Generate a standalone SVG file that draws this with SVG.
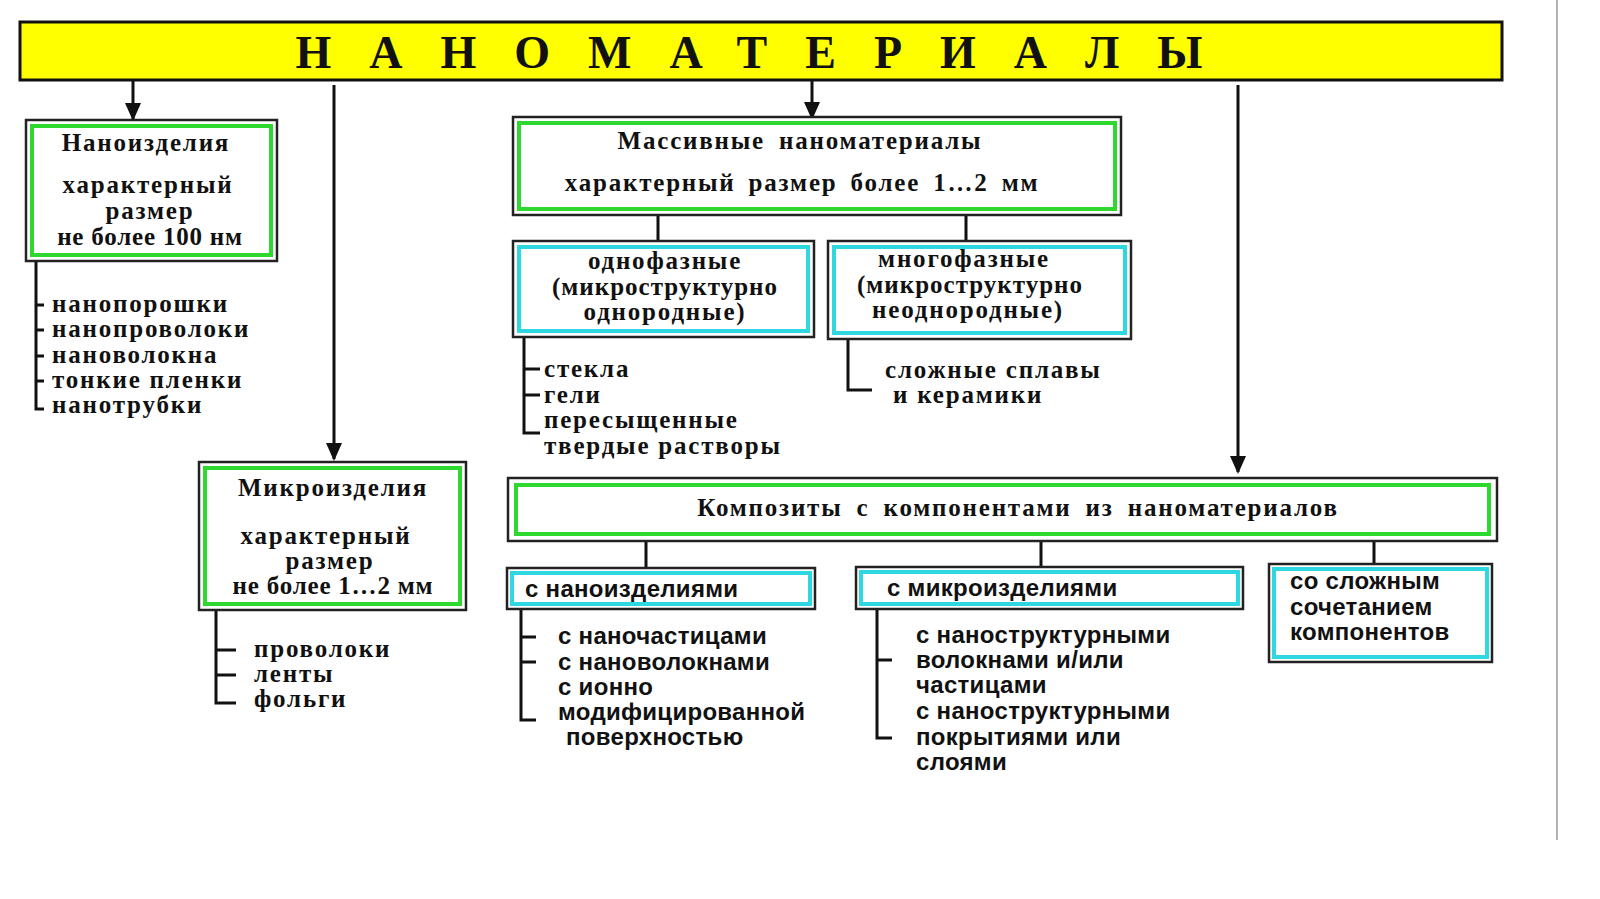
<svg xmlns="http://www.w3.org/2000/svg" width="1600" height="899" viewBox="0 0 1600 899">
<style>
text{font-family:"Liberation Serif","DejaVu Serif",serif;font-weight:bold;fill:#111;font-size:25px;letter-spacing:1.8px}
.c{text-anchor:middle}
.o{fill:#fff;stroke:#222;stroke-width:2.5}
.g{fill:none;stroke:#2ed82e;stroke-width:4}
.b{fill:none;stroke:#2fd8e0;stroke-width:4}
.l{stroke:#111;stroke-width:3;fill:none}
.n{font-family:"Liberation Sans","DejaVu Sans",sans-serif;font-size:24px;letter-spacing:0.3px}
</style>
<defs><marker id="a" markerWidth="18" markerHeight="30" refX="16" refY="8" orient="auto" markerUnits="userSpaceOnUse" viewBox="0 0 18 16"><path d="M0,0L18,8L0,16z" fill="#111"/></marker></defs>
<rect width="1600" height="899" fill="#fff"/>
<line x1="1557" y1="0" x2="1557" y2="840" stroke="#999" stroke-width="1.5"/>
<g id="title"><rect x="20" y="22" width="1482" height="58" fill="#ffff00" stroke="#111" stroke-width="3"/><text x="768" y="68" class="c" style="font-size:46px;letter-spacing:38px">НАНОМАТЕРИАЛЫ</text></g>
<g id="connectors" class="l">
<line x1="133" y1="80" x2="133" y2="119" marker-end="url(#a)"/>
<line x1="334" y1="85" x2="334" y2="459" marker-end="url(#a)"/>
<line x1="812" y1="80" x2="812" y2="118" marker-end="url(#a)"/>
<line x1="1238" y1="85" x2="1238" y2="472" marker-end="url(#a)"/>
<path d="M36 261V409H44M36 305H44M36 330H44M36 356H44M36 381H44"/>
<path d="M216 610V703H236M216 650H236M216 675H236"/>
<path d="M658 215V240M966 215V240M524 337V433H540M524 369H540M524 395H540M848 339V390H872"/>
<path d="M646 541V567M1041 541V567M1374 541V564"/>
<path d="M521 609V720H536M521 637H536M521 662H536M877 609V738H892M877 660H892"/>
</g>
<g id="nanoizdeliya"><rect class="o" x="26" y="120" width="251" height="141"/><rect class="g" x="32" y="126" width="239" height="129"/>
<text x="146" y="151" class="c">Наноизделия</text><text x="148" y="193" class="c">характерный</text><text x="150" y="219" class="c">размер</text><text x="150" y="245" class="c" style="letter-spacing:0.8px">не более 100 нм</text></g>
<g id="nano-list"><text x="52" y="312">нанопорошки</text><text x="52" y="337">нанопроволоки</text><text x="52" y="363">нановолокна</text><text x="52" y="388">тонкие пленки</text><text x="52" y="413">нанотрубки</text></g>
<g id="mikroizdeliya"><rect class="o" x="199" y="462" width="267" height="148"/><rect class="g" x="205" y="468" width="255" height="136"/>
<text x="333" y="496" class="c">Микроизделия</text><text x="326" y="544" class="c">характерный</text><text x="330" y="569" class="c">размер</text><text x="333" y="594" class="c" style="letter-spacing:0.8px">не более 1…2 мм</text></g>
<g id="mikro-list"><text x="254" y="657">проволоки</text><text x="254" y="682">ленты</text><text x="254" y="707">фольги</text></g>
<g id="massive"><rect class="o" x="513" y="117" width="608" height="98"/><rect class="g" x="519" y="123" width="596" height="86"/>
<text x="800" y="149" class="c" style="word-spacing:6px">Массивные наноматериалы</text><text x="802" y="191" class="c" style="word-spacing:5px">характерный размер более 1…2 мм</text></g>
<g id="single"><rect class="o" x="513" y="241" width="301" height="96"/><rect class="b" x="519" y="247" width="289" height="84"/>
<text x="665" y="269" class="c">однофазные</text><text x="665" y="295" class="c" style="letter-spacing:1px">(микроструктурно</text><text x="665" y="320" class="c">однородные)</text></g>
<g id="single-list"><text x="544" y="377">стекла</text><text x="544" y="403">гели</text><text x="544" y="428">пересыщенные</text><text x="544" y="454">твердые растворы</text></g>
<g id="multi"><rect class="o" x="828" y="241" width="303" height="98"/><rect class="b" x="834" y="247" width="291" height="86"/>
<text x="964" y="267" class="c">многофазные</text><text x="970" y="293" class="c" style="letter-spacing:1px">(микроструктурно</text><text x="968" y="318" class="c">неоднородные)</text></g>
<g id="multi-list"><text x="885" y="378">сложные сплавы</text><text x="893" y="403">и керамики</text></g>
<g id="composites"><rect class="o" x="508" y="478" width="989" height="63"/><rect class="g" x="516" y="485" width="973" height="49"/>
<text x="1018" y="516" class="c" style="word-spacing:6px">Композиты с компонентами из наноматериалов</text></g>
<g id="c-nano"><rect class="o" x="507" y="568" width="308" height="41"/><rect class="b" x="512" y="573" width="298" height="31"/><text x="525" y="597" class="n">с наноизделиями</text></g>
<g id="c-nano-list"><text class="n" x="558" y="644">с наночастицами</text><text class="n" x="558" y="670">с нановолокнами</text><text class="n" x="558" y="695">с ионно</text><text class="n" x="558" y="720">модифицированной</text><text class="n" x="566" y="745">поверхностью</text></g>
<g id="c-micro"><rect class="o" x="856" y="567" width="387" height="42"/><rect class="b" x="861" y="572" width="377" height="32"/><text x="887" y="596" class="n">с микроизделиями</text></g>
<g id="c-micro-list"><text class="n" x="916" y="643">с наноструктурными</text><text class="n" x="916" y="668">волокнами и/или</text><text class="n" x="916" y="693">частицами</text><text class="n" x="916" y="719">с наноструктурными</text><text class="n" x="916" y="745">покрытиями или</text><text class="n" x="916" y="770">слоями</text></g>
<g id="c-complex"><rect class="o" x="1269" y="564" width="223" height="98"/><rect class="b" x="1274" y="569" width="213" height="88"/>
<text class="n" x="1290" y="589">со сложным</text><text class="n" x="1290" y="615">сочетанием</text><text class="n" x="1290" y="640">компонентов</text></g>
</svg>
